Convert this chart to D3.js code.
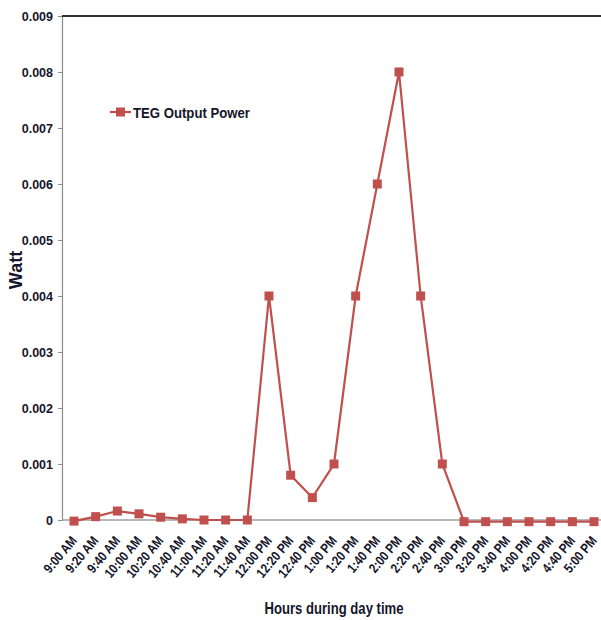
<!DOCTYPE html>
<html>
<head>
<meta charset="utf-8">
<script src="https://cdn.jsdelivr.net/npm/d3@7"></script>
<style>
  html, body { margin: 0; padding: 0; background: #fff; }
  svg { display: block; }
  .tick text { font-family: "Liberation Sans", Arial, sans-serif; font-weight: bold; fill: #16162a; }
</style>
</head>
<body>
<svg id="chart" width="601" height="620"></svg>
<script>
// Time of day for each reading
const times = ["9:00 AM","9:20 AM","9:40 AM","10:00 AM","10:20 AM","10:40 AM","11:00 AM","11:20 AM","11:40 AM",
  "12:00 PM","12:20 PM","12:40 PM","1:00 PM","1:20 PM","1:40 PM","2:00 PM","2:20 PM","2:40 PM",
  "3:00 PM","3:20 PM","3:40 PM","4:00 PM","4:20 PM","4:40 PM","5:00 PM"];

// TEG output power (W)
const tegPower = [-0.00002,0.00006,0.00016,0.00011,0.00005,0.00002,0,0,0,
  0.004,0.0008,0.0004,0.001,0.004,0.006,0.008,0.004,0.001,
  -0.00003,-0.00003,-0.00003,-0.00003,-0.00003,-0.00003,-0.00003];

const yTicks = [0,0.001,0.002,0.003,0.004,0.005,0.006,0.007,0.008,0.009];
const seriesName = "TEG Output Power";
const xTitle = "Hours during day time";
const yTitle = "Watt";

const svg = d3.select("#chart");
const plot = { left: 62, right: 601, top: 16, bottom: 520 };
const red = "#c0504d";
const textColor = "#16162a";

const x = d3.scalePoint().domain(times).range([74, 594]);
const y = d3.scaleLinear().domain([0, 0.009]).range([plot.bottom, plot.top]);

// Y axis
const yAxis = svg.append("g")
  .attr("transform", `translate(${plot.left},0)`)
  .call(d3.axisLeft(y).tickValues(yTicks).tickSize(4).tickPadding(5)
    .tickFormat(d => d === 0 ? "0" : d3.format(".3f")(d)));
yAxis.select(".domain").attr("stroke", "#8c8c8c").attr("stroke-width", 1.2);
yAxis.selectAll(".tick line").attr("stroke", "#8c8c8c");
yAxis.selectAll(".tick text").attr("font-size", 12.5);

// Top frame line
svg.append("line")
  .attr("x1", plot.left).attr("x2", plot.right)
  .attr("y1", y(0.009)).attr("y2", y(0.009))
  .attr("stroke", "#333").attr("stroke-width", 2);

// Zero baseline
svg.append("line")
  .attr("x1", plot.left).attr("x2", plot.right)
  .attr("y1", y(0)).attr("y2", y(0))
  .attr("stroke", "#a0a0a0").attr("stroke-width", 1.5);

// X axis labels (no tick marks), condensed and slanted
const xAxis = svg.append("g")
  .attr("transform", `translate(0,${y(0)})`)
  .call(d3.axisBottom(x).tickSize(0).tickPadding(0));
xAxis.select(".domain").remove();
xAxis.selectAll(".tick text")
  .attr("font-size", 13.5)
  .attr("text-anchor", "end")
  .attr("dy", null)
  .attr("y", 0)
  .attr("transform", "translate(3,21) rotate(-50) scale(0.84,1)");

// Series line
svg.append("path")
  .datum(tegPower)
  .attr("fill", "none")
  .attr("stroke", red)
  .attr("stroke-width", 2.2)
  .attr("d", d3.line().x((d, i) => x(times[i])).y(d => y(d)));

// Square markers
const ms = 9;
svg.append("g").selectAll("rect")
  .data(tegPower)
  .join("rect")
  .attr("x", (d, i) => x(times[i]) - ms / 2)
  .attr("y", d => y(d) - ms / 2)
  .attr("width", ms).attr("height", ms)
  .attr("fill", red);

// Legend
const lg = svg.append("g").attr("transform", "translate(110,112)");
lg.append("line").attr("x1", 0).attr("x2", 21).attr("y1", 0).attr("y2", 0)
  .attr("stroke", red).attr("stroke-width", 2.2);
lg.append("rect").attr("x", 6).attr("y", -4.5).attr("width", 9).attr("height", 9).attr("fill", red);
lg.append("text").attr("x", 23).attr("y", 5.5)
  .attr("font-family", "'Liberation Sans', Arial, sans-serif")
  .attr("font-weight", "bold")
  .attr("font-size", 15.5).attr("fill", textColor)
  .attr("textLength", 117).attr("lengthAdjust", "spacingAndGlyphs")
  .text(seriesName);

// Axis titles
svg.append("text")
  .attr("x", 334).attr("y", 614)
  .attr("text-anchor", "middle")
  .attr("font-family", "'Liberation Sans', Arial, sans-serif")
  .attr("font-weight", "bold")
  .attr("font-size", 16.5).attr("fill", textColor)
  .attr("textLength", 139).attr("lengthAdjust", "spacingAndGlyphs")
  .text(xTitle);

svg.append("text")
  .attr("transform", "translate(22,270) rotate(-90)")
  .attr("text-anchor", "middle")
  .attr("font-family", "'Liberation Sans', Arial, sans-serif")
  .attr("font-weight", "bold")
  .attr("font-size", 18).attr("fill", textColor)
  .text(yTitle);
</script>
</body>
</html>
